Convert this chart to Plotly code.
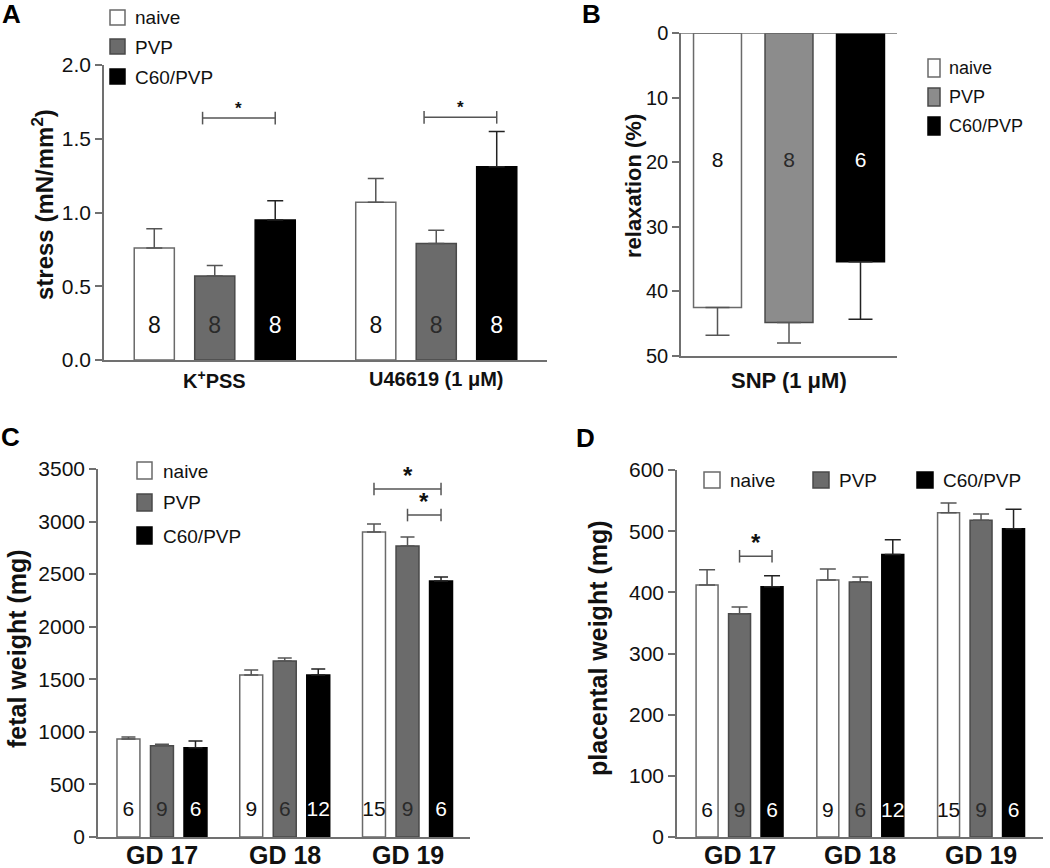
import plotly.graph_objects as go

W, H = 1050, 868
FONT = "Liberation Sans, Arial, sans-serif"

# ---------------- data ----------------
series = ["naive", "PVP", "C60/PVP"]

# Panel A: stress (mN/mm^2)
a_categories = ["K<sup>+</sup>PSS", "U46619 (1 μM)"]
a_naive = [0.76, 1.07]
a_naive_sem = [0.13, 0.16]
a_pvp = [0.57, 0.79]
a_pvp_sem = [0.07, 0.09]
a_c60 = [0.95, 1.31]
a_c60_sem = [0.13, 0.24]
a_n_naive = [8, 8]
a_n_pvp = [8, 8]
a_n_c60 = [8, 8]
a_ticks = [0.0, 0.5, 1.0, 1.5, 2.0]

# Panel B: relaxation (%)
b_categories = ["SNP (1 μM)"]
b_naive = [42.5]
b_naive_sem = [4.3]
b_pvp = [44.8]
b_pvp_sem = [3.2]
b_c60 = [35.4]
b_c60_sem = [8.9]
b_n_naive = [8]
b_n_pvp = [8]
b_n_c60 = [6]
b_ticks = [0, 10, 20, 30, 40, 50]

# Panel C: fetal weight (mg)
c_categories = ["GD 17", "GD 18", "GD 19"]
c_naive = [932, 1541, 2901]
c_naive_sem = [19, 47, 75]
c_pvp = [868, 1674, 2768]
c_pvp_sem = [15, 28, 85]
c_c60 = [848, 1541, 2435]
c_c60_sem = [66, 57, 38]
c_n_naive = [6, 9, 15]
c_n_pvp = [9, 6, 9]
c_n_c60 = [6, 12, 6]
c_ticks = [0, 500, 1000, 1500, 2000, 2500, 3000, 3500]

# Panel D: placental weight (mg)
d_categories = ["GD 17", "GD 18", "GD 19"]
d_naive = [412, 420, 530]
d_naive_sem = [25, 18, 16]
d_pvp = [365, 417, 518]
d_pvp_sem = [11, 8, 10]
d_c60 = [409, 462, 504]
d_c60_sem = [18, 24, 32]
d_n_naive = [6, 9, 15]
d_n_pvp = [9, 6, 9]
d_n_c60 = [6, 12, 6]
d_ticks = [0, 100, 200, 300, 400, 500, 600]

# significance brackets: (group index, from series, to series, y value)
a_brackets = [(0, 1, 2, 1.64), (1, 1, 2, 1.645)]
c_brackets = [(2, 0, 2, 3310), (2, 1, 2, 3062)]
d_brackets = [(0, 1, 2, 459)]

# ---------------- styling ----------------
AXC = "#707070"
TXT = "#111111"
fills_main = ["#ffffff", "#6b6b6b", "#000000"]
fills_b = ["#ffffff", "#8c8c8c", "#000000"]
outl = ["#6a6a6a", "#4a4a4a", "#000000"]
errc = ["#555555", "#555555", "#222222"]
lbl_col = ["#111111", "#2a2a2a", "#ffffff"]


def px_x(x):
    return x / W


def px_y(y):
    return 1 - y / H


fig = go.Figure()

panels = [
    dict(s="", xd=(104, 547), yd=(65, 360), xr=[-0.5, 1.5], yr=[0, 2.0],
         cats=a_categories, means=[a_naive, a_pvp, a_c60],
         sems=[a_naive_sem, a_pvp_sem, a_c60_sem],
         ns=[a_n_naive, a_n_pvp, a_n_c60], ticks=a_ticks, fmt=".1f",
         bw=0.181, sp=0.273, fills=fills_main, cap=8, lab_y=0.22, lab_size=23,
         catsize=20, cat_y=379, brackets=a_brackets, bracket_in=0.055, star=17,
         tick_size=21),
    dict(s="2", xd=(681, 897), yd=(33, 356), xr=[-0.5, 0.5], yr=[50, 0],
         cats=b_categories, means=[b_naive, b_pvp, b_c60],
         sems=[b_naive_sem, b_pvp_sem, b_c60_sem],
         ns=[b_n_naive, b_n_pvp, b_n_c60], ticks=b_ticks, fmt="d",
         bw=0.222, sp=0.331, fills=fills_b, cap=12, lab_y=20, lab_size=21,
         catsize=22, cat_y=380, brackets=[], bracket_in=0, star=17, tick_size=20),
    dict(s="3", xd=(98, 470), yd=(469, 837), xr=[-0.521, 2.509], yr=[0, 3500],
         cats=c_categories, means=[c_naive, c_pvp, c_c60],
         sems=[c_naive_sem, c_pvp_sem, c_c60_sem],
         ns=[c_n_naive, c_n_pvp, c_n_c60], ticks=c_ticks, fmt="d",
         bw=0.187, sp=0.273, fills=fills_main, cap=7, lab_y=250, lab_size=21,
         catsize=25, cat_y=855, brackets=c_brackets, bracket_in=0, star=24,
         tick_size=21),
    dict(s="4", xd=(677, 1043), yd=(470, 837), xr=[-0.518, 2.513], yr=[0, 600],
         cats=d_categories, means=[d_naive, d_pvp, d_c60],
         sems=[d_naive_sem, d_pvp_sem, d_c60_sem],
         ns=[d_n_naive, d_n_pvp, d_n_c60], ticks=d_ticks, fmt="d",
         bw=0.182, sp=0.269, fills=fills_main, cap=8, lab_y=42, lab_size=21,
         catsize=25, cat_y=855, brackets=d_brackets, bracket_in=0, star=24,
         tick_size=21),
]

annotations = []
shapes = []

for p in panels:
    xa = "x" + p["s"]
    ya = "y" + p["s"]
    ncat = len(p["cats"])
    for k in range(3):
        xs = [i + (k - 1) * p["sp"] for i in range(ncat)]
        fig.add_trace(go.Bar(
            x=xs, y=p["means"][k], width=p["bw"], xaxis=xa, yaxis=ya,
            marker=dict(color=p["fills"][k], line=dict(color=outl[k], width=1.5)),
            error_y=dict(type="data", symmetric=False, array=p["sems"][k],
                         arrayminus=[0] * ncat, color=errc[k], thickness=1.5,
                         width=p["cap"]),
            showlegend=False, name=series[k], hoverinfo="skip"))
        fig.add_trace(go.Scatter(
            x=xs, y=[p["lab_y"]] * ncat, mode="text",
            text=[str(n) for n in p["ns"][k]], xaxis=xa, yaxis=ya,
            textfont=dict(family=FONT, size=p["lab_size"], color=lbl_col[k]),
            showlegend=False, hoverinfo="skip"))
    for (g, s0, s1, yv) in p["brackets"]:
        x0 = g + (s0 - 1) * p["sp"] - p["bracket_in"]
        x1 = g + (s1 - 1) * p["sp"]
        fig.add_trace(go.Scatter(
            x=[x0, x1], y=[yv, yv], mode="lines+markers", xaxis=xa, yaxis=ya,
            line=dict(color="#555555", width=1.5),
            marker=dict(symbol="line-ns", size=9,
                        line=dict(color="#555555", width=1.5)),
            showlegend=False, hoverinfo="skip"))
        annotations.append(dict(
            x=(x0 + x1) / 2, y=yv, xref=xa, yref=ya, text="<b>*</b>",
            showarrow=False, yanchor="bottom", yshift=-2,
            font=dict(family=FONT, size=p["star"], color=TXT)))
    # category labels under the x axis
    for i, c in enumerate(p["cats"]):
        annotations.append(dict(
            x=i, y=px_y(p["cat_y"]), xref=xa, yref="paper", text="<b>" + c + "</b>",
            showarrow=False, xanchor="center", yanchor="middle",
            font=dict(family=FONT, size=p["catsize"], color=TXT)))

    xdom = [px_x(p["xd"][0]), px_x(p["xd"][1])]
    ydom = [px_y(p["yd"][1]), px_y(p["yd"][0])]
    xkey = "xaxis" + p["s"]
    ykey = "yaxis" + p["s"]
    fig.layout[xkey] = dict(
        domain=xdom, range=p["xr"], anchor=ya, showline=True, linecolor=AXC,
        linewidth=1.5, showgrid=False, zeroline=False, ticks="", automargin=False,
        showticklabels=False, fixedrange=True)
    fig.layout[ykey] = dict(
        domain=ydom, range=p["yr"], anchor=xa, showline=True, linecolor=AXC,
        linewidth=1.5, showgrid=False, zeroline=False, ticks="outside", automargin=False,
        ticklen=7, tickwidth=1.5, tickcolor=AXC, tickvals=p["ticks"],
        tickformat=p["fmt"], tickfont=dict(family=FONT, size=p["tick_size"], color=TXT),
        fixedrange=True)

# top line of panel B (zero level)
shapes.append(dict(type="line", xref="x2 domain", yref="y2", x0=0, x1=1, y0=0, y1=0,
                   line=dict(color=AXC, width=1.5)))


def legend_item(x0, y0, w, h, fill, line, text, tx, ty, size):
    shapes.append(dict(type="rect", xref="paper", yref="paper",
                       x0=px_x(x0), x1=px_x(x0 + w), y0=px_y(y0 + h), y1=px_y(y0),
                       fillcolor=fill, line=dict(color=line, width=1.5)))
    annotations.append(dict(x=px_x(tx), y=px_y(ty), xref="paper", yref="paper",
                            text=text, showarrow=False, xanchor="left", yanchor="middle",
                            font=dict(family=FONT, size=size, color=TXT)))


# legends
for k, yy in enumerate([10, 39, 69]):
    legend_item(110, yy, 15, 15, fills_main[k], outl[k], series[k], 133, yy + 8, 19)
for k, yy in enumerate([59, 88, 117]):
    legend_item(928, yy, 12, 18, fills_b[k], outl[k], series[k], 947, yy + 9, 18)
for k, yy in enumerate([462, 494, 527]):
    legend_item(137, yy, 15, 17, fills_main[k], outl[k], series[k], 161, yy + 9, 19)
for k, (xx, tx) in enumerate([(704, 728), (813, 837), (917, 941)]):
    legend_item(xx, 472, 16, 16, fills_main[k], outl[k], series[k], tx, 480, 19)

# axis titles
titles = [("stress (mN/mm<sup>2</sup>)", 43, 205, 24),
          ("relaxation (%)", 633, 186, 22),
          ("fetal weight (mg)", 17, 649, 25),
          ("placental weight (mg)", 598, 648, 25)]
for t, x, y, s in titles:
    annotations.append(dict(x=px_x(x), y=px_y(y), xref="paper", yref="paper",
                            text="<b>" + t + "</b>", textangle=-90, showarrow=False,
                            xanchor="center", yanchor="middle",
                            font=dict(family=FONT, size=s, color=TXT)))

# panel letters
for t, x, y in [("A", 11, 14), ("B", 591, 14), ("C", 10, 437), ("D", 585, 438)]:
    annotations.append(dict(x=px_x(x), y=px_y(y), xref="paper", yref="paper",
                            text="<b>" + t + "</b>", showarrow=False,
                            xanchor="center", yanchor="middle",
                            font=dict(family=FONT, size=26, color="#000000")))

fig.update_layout(
    template="none",
    width=W, height=H, margin=dict(l=0, r=0, t=0, b=0, pad=0, autoexpand=False),
    paper_bgcolor="white", plot_bgcolor="white", barmode="overlay",
    showlegend=False, annotations=annotations, shapes=shapes,
    font=dict(family=FONT, color=TXT))

fig.write_html("out.html", config={"displayModeBar": False},
               post_script="document.body.style.margin='0px';document.body.style.overflow='hidden';")
